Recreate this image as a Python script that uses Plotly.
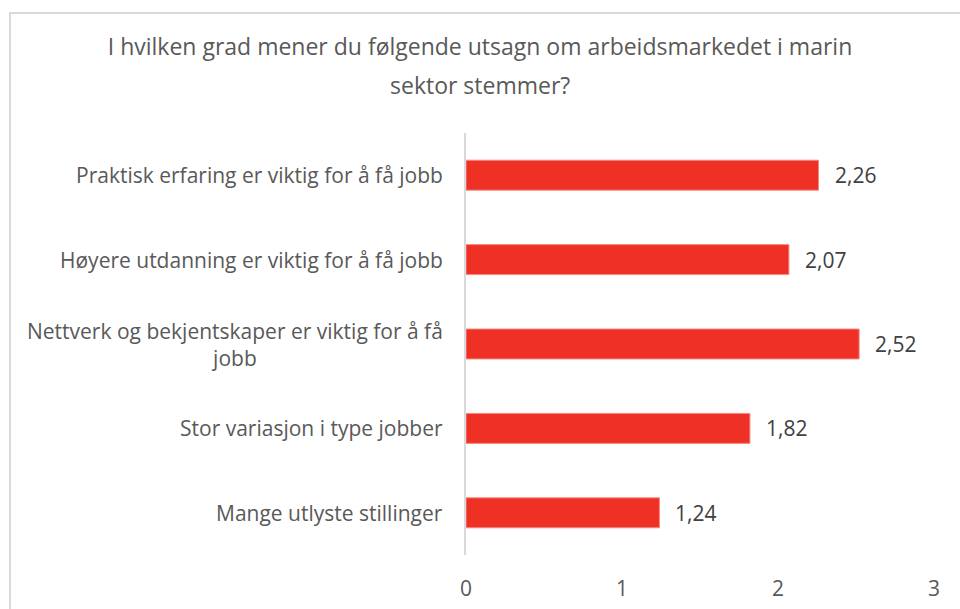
import plotly.graph_objects as go

title_line1 = "I hvilken grad mener du følgende utsagn om arbeidsmarkedet i marin"
title_line2 = "sektor stemmer?"
categories = [
    "Praktisk erfaring er viktig for å få jobb",
    "Høyere utdanning er viktig for å få jobb",
    "Nettverk og bekjentskaper er viktig for å få<br>jobb",
    "Stor variasjon i type jobber",
    "Mange utlyste stillinger",
]
values = [2.26, 2.07, 2.52, 1.82, 1.24]
x_ticks = [0, 1, 2, 3]

FONT = "Open Sans"
BAR = "#EE3124"
GREY = "#595959"

fig = go.Figure()
fig.add_trace(go.Bar(
    y=list(range(len(categories))),
    x=values,
    orientation="h",
    width=0.355,
    marker=dict(color=BAR, line=dict(color="#F58A84", width=1)),
    hoverinfo="skip",
))

annotations = []
for i, (c, v) in enumerate(zip(categories, values)):
    annotations.append(dict(
        x=0, y=i, xref="x", yref="y", text=c, showarrow=False,
        xanchor="right", yanchor="middle", align="center", xshift=-21,
        font=dict(family=FONT, size=21, color=GREY),
    ))
    annotations.append(dict(
        x=v, y=i, xref="x", yref="y", text=f"{v:.2f}".replace(".", ","),
        showarrow=False, xanchor="left", yanchor="middle", xshift=14,
        font=dict(family=FONT, size=21, color="#404040"),
    ))
annotations.append(dict(
    x=(480 - 466) / 468, y=(555 - 85) / 422, xref="paper", yref="paper",
    xanchor="center", yanchor="middle",
    text=title_line2, showarrow=False, font=dict(family=FONT, size=23, color=GREY),
))

fig.update_layout(
    width=960, height=609,
    paper_bgcolor="white", plot_bgcolor="white",
    margin=dict(l=466, r=26, t=133, b=54, autoexpand=False),
    title=dict(text=title_line1, x=0.5, xref="container", xanchor="center",
               y=1, yref="container", yanchor="top", pad=dict(t=39),
               font=dict(family=FONT, size=23, color=GREY)),
    showlegend=False,
    annotations=annotations,
    xaxis=dict(range=[0, 3], tickvals=x_ticks, showgrid=False, zeroline=False,
               showline=False, ticks="", ticklabelstandoff=19, automargin=False,
               tickfont=dict(family=FONT, size=21, color=GREY), fixedrange=True),
    yaxis=dict(range=[len(categories) - 0.5, -0.5], showgrid=False, zeroline=False,
               showline=True, linecolor="#D9D9D9", linewidth=1.5, automargin=False,
               showticklabels=False, ticks="", fixedrange=True),
    shapes=[dict(type="rect", xref="paper", yref="paper",
                 x0=(10 - 466) / 468, x1=1.2, y0=-0.2, y1=(555 - 13) / 422,
                 line=dict(color="#D9D9D9", width=2), layer="below")],
)

fig.write_html("out.html", config={"displayModeBar": False},
               post_script="document.body.style.margin='0';document.body.style.overflow='hidden';")
